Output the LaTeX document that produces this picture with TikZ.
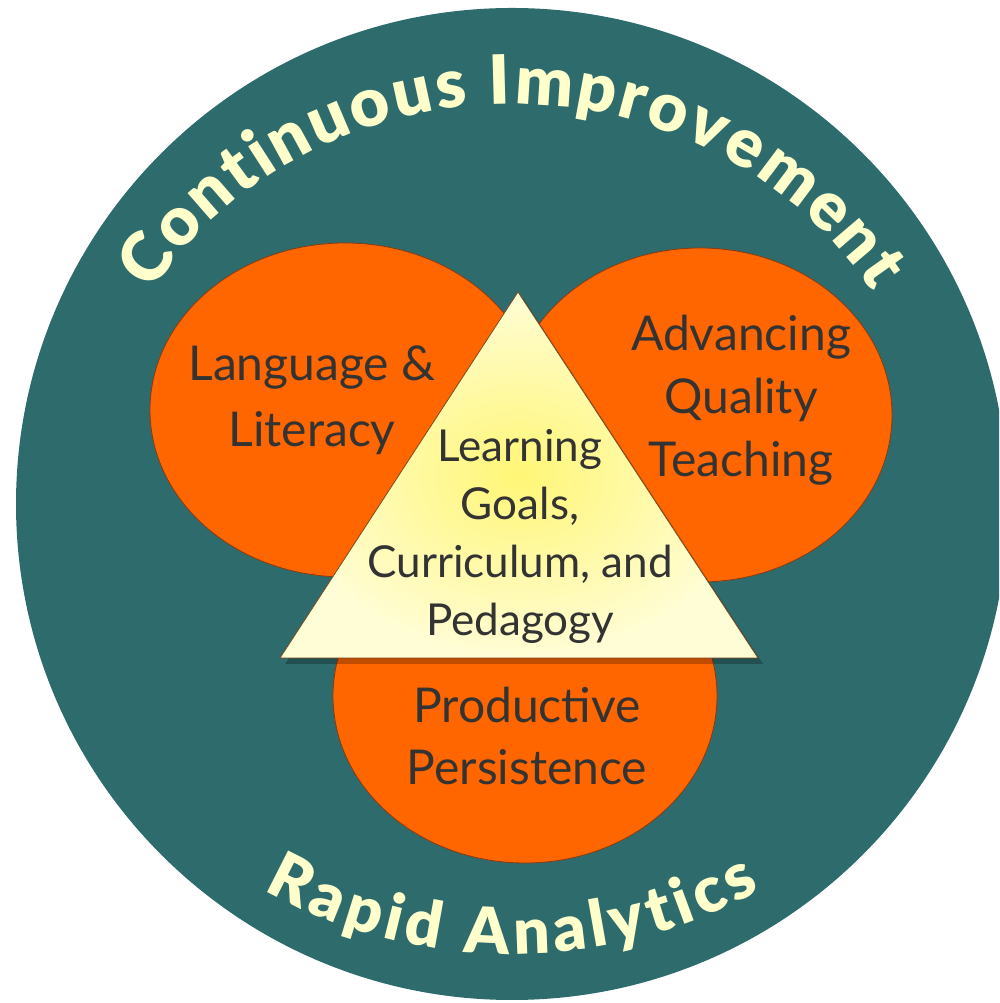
\documentclass[tikz,border=0pt]{standalone}
\usepackage{fontspec}
\setmainfont{Lato}
\newfontfamily\heavyfont{Lato Black}
\usetikzlibrary{decorations.text,shadings}
\definecolor{tealbg}{HTML}{2E6B6C}
\definecolor{orng}{HTML}{FF6600}
\definecolor{orngline}{HTML}{8A3A10}
\definecolor{txtyel}{HTML}{FFFFCC}
\definecolor{txtdark}{HTML}{333333}
\definecolor{triin}{HTML}{FFF676}
\definecolor{triout}{HTML}{FFFDD6}
\definecolor{triline}{HTML}{7A4A20}
\tikzset{
  blob/.style={fill=orng, draw=orngline, line width=0.8pt},
  bodytext/.style={text=txtdark, align=center, inner sep=0pt},
}
\begin{document}
\begin{tikzpicture}[x=1pt,y=1pt]
\useasboundingbox (0,0) rectangle (999,1003);
\clip (0,0) rectangle (999,1003);
\coordinate (c) at (512,499);
% outer disc
\fill[tealbg] (c) circle[radius=496pt];
% orange ellipses
\path[blob] (345,593) ellipse[x radius=195pt, y radius=167pt];
\path[blob] (700,588) ellipse[x radius=192pt, y radius=167pt];
\path[blob] (525,307) ellipse[x radius=192pt, y radius=167pt];
% triangle
\coordinate (ta) at (518,711);
\coordinate (tl) at (280,345);
\coordinate (tr) at (758,345);
\fill[black, opacity=0.25] ([shift={(5,-6)}]ta) -- ([shift={(5,-6)}]tl) -- ([shift={(5,-6)}]tr) -- cycle;
\shade[inner color=triin, outer color=triout] (ta) -- (tl) -- (tr) -- cycle;
\draw[triline, line width=0.8pt, line join=miter] (ta) -- (tl) -- (tr) -- cycle;
% texts in shapes
\node[bodytext, font=\fontsize{48}{66}\selectfont] (lang) at (312,603) {Language \&\\Literacy};
\node[bodytext, font=\fontsize{48}{63}\selectfont] (adv) at (741,603) {Advancing\\Quality\\Teaching};
\node[bodytext, font=\fontsize{44}{58}\selectfont] (learn) at (520,467) {Learning\\Goals,\\Curriculum, and\\Pedagogy};
\node[bodytext, font=\fontsize{48}{62}\selectfont] (prod) at (527,267) {Productive\\Persistence};
% curved titles
\path[decorate, decoration={text along path, text align={fit to path},
  text={|\fontsize{68}{68}\selectfont\heavyfont\color{txtyel}|Continuous Improvement}}]
  ([shift={(148:425pt and 400pt)}]c) arc[start angle=148, end angle=32, x radius=425pt, y radius=400pt];
\path[decorate, decoration={text along path, text align={fit to path},
  text={|\fontsize{64}{64}\selectfont\heavyfont\color{txtyel}|Rapid Analytics}}]
  ([shift={(239:482pt and 450pt)}]c) arc[start angle=239, end angle=301, x radius=482pt, y radius=450pt];
\end{tikzpicture}
\end{document}
